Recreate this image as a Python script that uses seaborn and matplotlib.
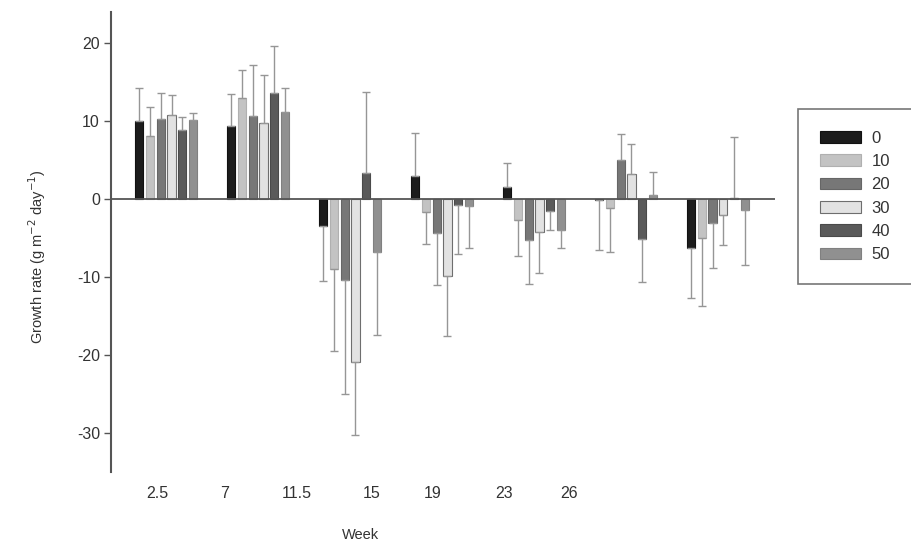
import matplotlib
matplotlib.use("Agg")
import matplotlib.pyplot as plt
from matplotlib.container import BarContainer
from matplotlib.patches import Patch
import pandas as pd
import seaborn as sns

# Sampling weeks and treatment levels
weeks = ["2.5", "7", "11.5", "15", "19", "23", "26"]
levels = ["0", "10", "20", "30", "40", "50"]

# Mean growth rate per level, one value per week
rate_0 = [10.0, 9.4, -3.5, 3.0, 1.6, -0.1, -6.3]
rate_10 = [8.1, 13.0, -8.9, -1.7, -2.7, -1.2, -5.0]
rate_20 = [10.3, 10.7, -10.4, -4.4, -5.2, 5.0, -3.1]
rate_30 = [10.8, 9.7, -20.9, -9.9, -4.2, 3.2, -2.0]
rate_40 = [8.9, 13.6, 3.3, -0.7, -1.5, -5.1, 0.1]
rate_50 = [10.2, 11.2, -6.8, -0.9, -3.9, 0.5, -1.4]

# One-sided error (SD) per level, one value per week
err_0 = [4.3, 4.1, 7.0, 5.5, 3.0, 6.4, 6.4]
err_10 = [3.7, 3.6, 10.6, 4.1, 4.6, 5.6, 8.7]
err_20 = [3.3, 6.5, 14.6, 6.6, 5.7, 3.3, 5.7]
err_30 = [2.5, 6.2, 9.3, 7.6, 5.3, 3.9, 3.9]
err_40 = [1.6, 6.1, 10.4, 6.4, 2.5, 5.5, 7.9]
err_50 = [0.8, 3.0, 10.6, 5.4, 2.4, 3.0, 7.1]

rates = [rate_0, rate_10, rate_20, rate_30, rate_40, rate_50]
errs = [err_0, err_10, err_20, err_30, err_40, err_50]

# Styling
face_colors = ["#1c1c1c", "#c3c3c3", "#777777", "#e2e2e2", "#5a5a5a", "#909090"]
edge_colors = ["#111111", "#b0b0b0", "#666666", "#6e6e6e", "#4a4a4a", "#808080"]
week_label_x = [-0.10, 0.63, 1.42, 2.23, 2.90, 3.67, 4.38]

rows = []
for lvl, vals in zip(levels, rates):
    for wk, v in zip(weeks, vals):
        rows.append({"week": wk, "level": lvl, "rate": v})
df = pd.DataFrame(rows)

sns.set_theme(style="white")
plt.rcParams["font.family"] = ["Liberation Sans", "DejaVu Sans"]
plt.rcParams["axes.unicode_minus"] = False

fig = plt.figure(figsize=(9.12, 5.44), dpi=100)
ax = fig.add_axes([111 / 912, 72 / 544, 664 / 912, 460 / 544])

sns.barplot(
    data=df, x="week", y="rate", hue="level",
    order=weeks, hue_order=levels,
    palette=dict(zip(levels, face_colors)),
    width=0.70, gap=0.23, errorbar=None, legend=False, ax=ax,
)

bar_containers = [c for c in ax.containers if isinstance(c, BarContainer)]
for i, cont in enumerate(bar_containers):
    for p in cont.patches:
        p.set_edgecolor(edge_colors[i])
        p.set_linewidth(0.8)
        cx = p.get_x() + p.get_width() / 2
        h = p.get_height()
        wi = int(round(cx))
        e = errs[i][wi]
        yerr = [[0], [e]] if h >= 0 else [[e], [0]]
        ax.errorbar([cx], [h], yerr=yerr, fmt="none", ecolor="#969696",
                    elinewidth=1.0, capsize=2.6, capthick=1.0, zorder=1)

ax.axhline(0, color="#555555", lw=1.3, zorder=4)

ax.set_xlim(-0.6, 6.62)
ax.set_ylim(-35, 24)
ax.set_yticks([-30, -20, -10, 0, 10, 20])
ax.set_xticks(week_label_x, weeks)

for side in ["top", "right", "bottom"]:
    ax.spines[side].set_visible(False)
ax.spines["left"].set_color("#555555")
ax.spines["left"].set_linewidth(1.5)

ax.tick_params(axis="y", direction="out", length=5, width=1, color="#555555",
               labelsize=11.5, labelcolor="#333333", left=True, pad=3)
ax.tick_params(axis="x", length=0, labelsize=11.5, labelcolor="#333333", pad=10)

ax.set_ylabel("Growth rate (g m$^{-2}$ day$^{-1}$)", fontsize=10.5, color="#333333")
ax.set_xlabel("Week", fontsize=10.5, color="#333333")
ax.yaxis.set_label_coords(-0.095, 0.468)
ax.xaxis.set_label_coords(0.375, -0.122)

handles = [Patch(facecolor=fc, edgecolor=ec, linewidth=0.8)
           for fc, ec in zip(face_colors, edge_colors)]
leg = fig.legend(handles, levels, loc="upper left",
                 bbox_to_anchor=(798 / 912, 1 - 109 / 544),
                 borderaxespad=0, fontsize=12, frameon=True, fancybox=False,
                 handlelength=2.5, handleheight=0.72, labelspacing=0.5,
                 borderpad=1.3, handletextpad=0.6)
leg.get_frame().set_edgecolor("#555555")
leg.get_frame().set_linewidth(1.2)
for t in leg.get_texts():
    t.set_color("#333333")

fig.savefig("out.png", dpi=100, facecolor="white")
